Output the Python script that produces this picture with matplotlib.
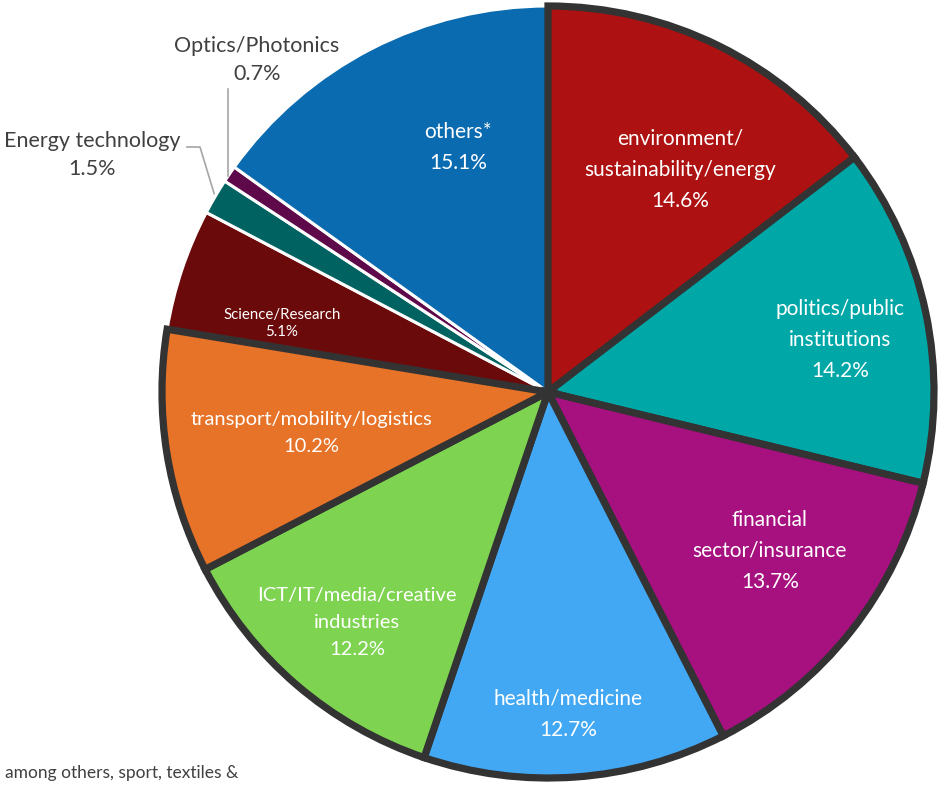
import matplotlib
matplotlib.use("Agg")
import matplotlib.pyplot as plt
import numpy as np

categories = ["environment/\nsustainability/energy", "politics/public\ninstitutions",
              "financial\nsector/insurance", "health/medicine",
              "ICT/IT/media/creative\nindustries", "transport/mobility/logistics",
              "Science/Research", "Energy technology", "Optics/Photonics", "others*"]
values = [14.6, 14.2, 13.7, 12.7, 12.2, 10.2, 5.1, 1.5, 0.7, 15.1]
colors = ["#AE1111", "#00A7A7", "#A6117F", "#42A8F4", "#7ED451", "#E67327",
          "#6B0A0B", "#006361", "#5E0A4A", "#0A6BB0"]
bordered = [True, True, True, True, True, True, False, False, False, False]
# label placement (fraction of radius, angle in degrees)
label_pos = [(0.669, 59.3), (0.768, 10.1), (0.707, -35.6), (0.836, -86.4),
             (0.776, -129.6), (0.623, -170.2), (0.712, 165.5), None, None,
             (0.674, 110.2)]
label_size = [15, 15, 15, 15, 14.5, 14.5, 10.8, 15.5, 15.5, 15]
footnote = "among others, sport, textiles &"

plt.rcParams['font.family'] = ['Lato', 'DejaVu Sans']

W, H = 947, 793
fig = plt.figure(figsize=(W / 100, H / 100), dpi=100)
ax = fig.add_axes([0, 0, 1, 1])

cx, cy, R = 548, H - 392, 386
wedges, _ = ax.pie(values, colors=colors, startangle=90, counterclock=False,
                   center=(cx, cy), radius=R, frame=True,
                   wedgeprops=dict(edgecolor="white", linewidth=2.2))
ax.set_xlim(0, W)
ax.set_ylim(0, H)
ax.set_aspect('equal')
ax.axis('off')
for w, b in zip(wedges, bordered):
    if b:
        w.set_edgecolor("#333333")
        w.set_linewidth(5.2)
        w.set_joinstyle("miter")
        w.set_zorder(3)

grey = "#404040"
for w, cat, v, pos, fs in zip(wedges, categories, values, label_pos, label_size):
    if pos is not None:
        r, ang = pos
        x = cx + r * R * np.cos(np.deg2rad(ang))
        y = cy + r * R * np.sin(np.deg2rad(ang))
        ls = 1.25 if fs < 12 else 1.7
        ax.text(x, y, f"{cat}\n{v:.1f}%", ha="center", va="center", color="white",
                fontsize=fs, linespacing=ls, zorder=5)

def edge_pt(w):
    mid = np.deg2rad((w.theta1 + w.theta2) / 2)
    return cx + R * np.cos(mid), cy + R * np.sin(mid)

ex, ey = edge_pt(wedges[7])
ax.plot([ex - 1, 200, 187], [ey + 3, H - 147, H - 147], color="#A6A6A6", lw=1.2, zorder=2)
ax.text(92, H - 155, f"{categories[7]}\n{values[7]:.1f}%", ha="center", va="center",
        color=grey, fontsize=label_size[7], linespacing=1.5)

ox, oy = edge_pt(wedges[8])
ax.plot([228, 228], [oy - 2, H - 89], color="#A6A6A6", lw=1.2, zorder=2)
ax.text(257, H - 60, f"{categories[8]}\n{values[8]:.1f}%", ha="center", va="center",
        color=grey, fontsize=label_size[8], linespacing=1.5)

ax.text(5, H - 773, footnote, ha="left", va="center", color=grey, fontsize=12.5)

fig.savefig("out.png", dpi=100)
